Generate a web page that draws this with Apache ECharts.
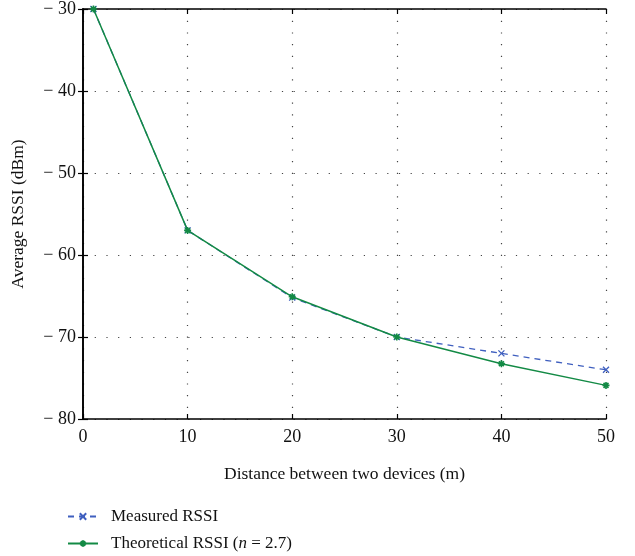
<!DOCTYPE html>
<html>
<head>
<meta charset="utf-8">
<script src="https://cdn.jsdelivr.net/npm/echarts@6/dist/echarts.min.js"></script>
<style>html,body{margin:0;padding:0;background:#fff}#c{width:635px;height:556px}</style>
</head>
<body>
<div id="c"></div>
<script>
const distances = [1, 10, 20, 30, 40, 50];
const measuredRSSI = [-30, -57, -65.2, -70, -72, -74];
const theoreticalRSSI = [-30, -57, -65.1, -70, -73.25, -75.9];
const xTicks = [0, 10, 20, 30, 40, 50];
const yTicks = [-80, -70, -60, -50, -40, -30];
const seriesNames = ['Measured RSSI', 'Theoretical RSSI (n = 2.7)'];

const FONT = 'Liberation Serif';
const xSym = 'path://M0 0 L10 10 M10 0 L0 10';
const astSym = 'path://M5 0 L5 10 M0 5 L10 5 M1.5 1.5 L8.5 8.5 M8.5 1.5 L1.5 8.5';
const blue = '#3f5fbf';
const green = '#138a45';

const fmtY = v => (v < 0 ? '\u2212 ' + Math.abs(v) : String(v));
const axisLine = {show: true, lineStyle: {color: '#000', width: 1.6}};
const split = {show: true, lineStyle: {color: '#444', type: [1.2, 10.5], width: 1.2}};
const tick = {show: true, inside: true, length: 5, lineStyle: {color: '#000', width: 1.2}};
const legendText = {
  fontFamily: FONT, fontSize: 17, color: '#111', padding: [0, 0, 0, 8],
  rich: {i: {fontFamily: FONT, fontSize: 17, fontStyle: 'italic', color: '#111'}}
};
const legendFmt = function (name) {
  if (name.indexOf('Theoretical') === 0) return 'Theoretical RSSI ({i|n} = 2.7)';
  return name;
};

const chart = echarts.init(document.getElementById('c'), null, {renderer: 'canvas'});
chart.setOption({
  animation: false,
  backgroundColor: '#fff',
  grid: {left: 83, top: 9, right: 29, bottom: 137, containLabel: false},
  xAxis: [{
    type: 'value', min: xTicks[0], max: xTicks[xTicks.length - 1], interval: 10,
    position: 'bottom',
    name: 'Distance between two devices (m)', nameLocation: 'middle', nameGap: 46,
    nameTextStyle: {fontFamily: FONT, fontSize: 17.5, color: '#111'},
    axisLine: axisLine, axisTick: tick,
    axisLabel: {fontFamily: FONT, fontSize: 18, color: '#111', margin: 9},
    splitLine: split
  }, {
    type: 'value', min: 0, max: 50, interval: 10, position: 'top',
    axisLine: axisLine, axisTick: tick,
    axisLabel: {show: false}, splitLine: {show: false}
  }],
  yAxis: [{
    type: 'value', min: yTicks[0], max: yTicks[yTicks.length - 1], interval: 10,
    position: 'left',
    name: 'Average RSSI (dBm)', nameLocation: 'middle', nameGap: 56, nameRotate: 90,
    nameTextStyle: {fontFamily: FONT, fontSize: 17.5, color: '#111'},
    axisLine: axisLine, axisTick: tick,
    axisLabel: {fontFamily: FONT, fontSize: 18, color: '#111', margin: 7, formatter: fmtY},
    splitLine: split
  }, {
    type: 'value', min: -80, max: -30, interval: 10, position: 'right',
    axisLine: axisLine, axisTick: tick,
    axisLabel: {show: false}, splitLine: {show: false}
  }],
  legend: [{
    orient: 'vertical', left: 67, top: 508, padding: 0, itemWidth: 30, itemHeight: 8,
    textStyle: legendText, formatter: legendFmt, data: [seriesNames[0]]
  }, {
    orient: 'vertical', left: 67, top: 535, padding: 0, itemWidth: 30, itemHeight: 8,
    textStyle: legendText, formatter: legendFmt, data: [seriesNames[1]]
  }],
  series: [{
    name: seriesNames[0], type: 'line',
    data: distances.map((d, i) => [d, measuredRSSI[i]]),
    symbol: xSym, symbolSize: 6, showSymbol: true,
    lineStyle: {color: blue, width: 1.3, type: [6, 5]},
    itemStyle: {color: blue, borderColor: blue, borderWidth: 1.3},
    z: 2
  }, {
    name: seriesNames[1], type: 'line',
    data: distances.map((d, i) => [d, theoreticalRSSI[i]]),
    symbol: astSym, symbolSize: 7, showSymbol: true,
    lineStyle: {color: green, width: 1.5},
    itemStyle: {color: green, borderColor: green, borderWidth: 1.6},
    z: 3
  }]
});
</script>
</body>
</html>
